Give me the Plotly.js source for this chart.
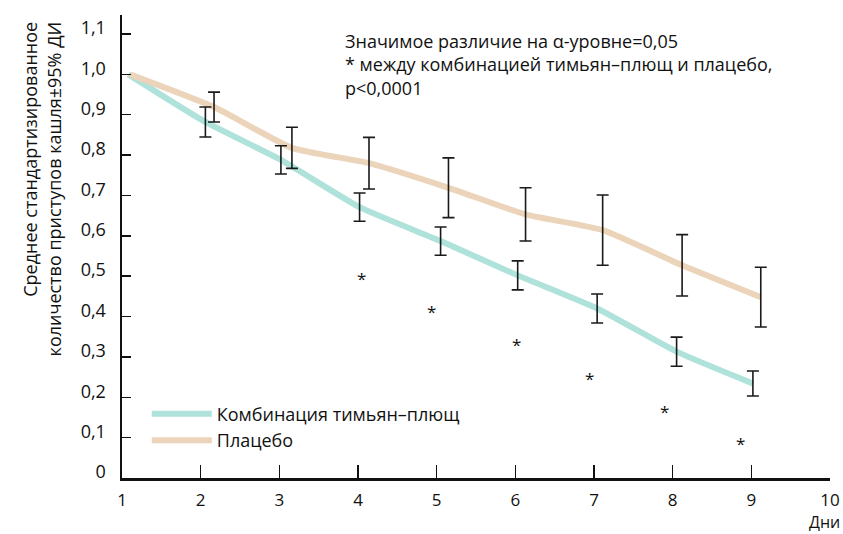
<!DOCTYPE html>
<html><head><meta charset="utf-8">
<script src="https://cdn.plot.ly/plotly-3.0.1.min.js"></script>
<style>html,body{margin:0;padding:0;background:#fff}#chart{width:843px;height:534px}</style>
</head><body><div id="chart"></div>
<script>
// Data
const comboName = 'Комбинация тимьян–плющ';
const placeboName = 'Плацебо';
const comboDays = [1.08, 2.06, 3.02, 4.02, 5.05, 6.03, 7.04, 8.05, 9.02];
const comboMean = [1.0, 0.882, 0.788, 0.671, 0.587, 0.502, 0.420, 0.313, 0.234];
const comboCI   = [0, 0.037, 0.035, 0.035, 0.035, 0.036, 0.036, 0.036, 0.031];
const placeboDays = [1.10, 2.17, 3.16, 4.14, 5.15, 6.13, 7.11, 8.12, 9.12];
const placeboMean = [1.0, 0.919, 0.818, 0.780, 0.719, 0.653, 0.614, 0.527, 0.448];
const placeboCI   = [0, 0.037, 0.051, 0.064, 0.074, 0.066, 0.087, 0.076, 0.074];
const starDays = [4.05, 4.94, 6.02, 6.94, 7.89, 8.86];
const starVals = [0.496, 0.414, 0.334, 0.250, 0.168, 0.089];
const yTickVals = [0, 0.1, 0.2, 0.3, 0.4, 0.5, 0.6, 0.7, 0.8, 0.9, 1.0, 1.1];
const yTickText = ['0', '0,1', '0,2', '0,3', '0,4', '0,5', '0,6', '0,7', '0,8', '0,9', '1,0', '1,1'];
const xTickVals = [1, 2, 3, 4, 5, 6, 7, 8, 9, 10];
const xTickText = ['1', '2', '3', '4', '5', '6', '7', '8', '9', '10'];
const yTitleText = 'Среднее стандартизированное<br>количество приступов кашля±95% ДИ';
const xTitleText = 'Дни';
const noteText = 'Значимое различие на α-уровне=0,05<br>* между комбинацией тимьян–плющ и плацебо,<br>p<0,0001';

const FONT = 'Open Sans, Noto Sans, sans-serif';
const FS = 18;
const teal = '#aee2da';
const tan = '#ebd4ba';

const traces = [
  {x: comboDays, y: comboMean, mode: 'lines', name: comboName,
   line: {color: teal, width: 6, shape: 'spline', smoothing: 0.5}, hoverinfo: 'skip'},
  {x: placeboDays, y: placeboMean, mode: 'lines', name: placeboName,
   line: {color: tan, width: 6, shape: 'spline', smoothing: 0.5}, hoverinfo: 'skip'},
  {x: comboDays.slice(1), y: comboMean.slice(1), mode: 'markers', showlegend: false,
   marker: {size: 1, opacity: 0},
   error_y: {type: 'data', array: comboCI.slice(1), visible: true, color: '#1a1a1a', thickness: 1.6, width: 6}},
  {x: placeboDays.slice(1), y: placeboMean.slice(1), mode: 'markers', showlegend: false,
   marker: {size: 1, opacity: 0},
   error_y: {type: 'data', array: placeboCI.slice(1), visible: true, color: '#1a1a1a', thickness: 1.6, width: 6}}
];

// significance stars placed at the data positions
const starAnnotations = starDays.map((d, i) => ({
  xref: 'x', yref: 'y', x: d, y: starVals[i], text: '*', showarrow: false,
  xanchor: 'center', yanchor: 'middle', yshift: -1,
  font: {family: FONT, size: 17, color: '#111'}
}));

const layout = {
  width: 843, height: 534,
  margin: {l: 122, r: 13, t: 15, b: 56},
  paper_bgcolor: '#fff', plot_bgcolor: '#fff',
  font: {family: FONT, size: FS, color: '#111'},
  showlegend: true,
  legend: {x: 0.035, y: 0.178, xanchor: 'left', yanchor: 'top', bgcolor: 'rgba(0,0,0,0)',
           font: {family: FONT, size: FS, color: '#111'}, itemwidth: 60, tracegroupgap: 0},
  xaxis: {range: [1, 10], showgrid: false, zeroline: false, showline: true, linecolor: '#111', linewidth: 2.5,
          ticks: 'inside', ticklen: 13, tickwidth: 1.5, tickcolor: '#111',
          tickvals: xTickVals, ticktext: xTickText, ticklabelstandoff: 5,
          tickfont: {family: FONT, size: 17, color: '#111'}},
  yaxis: {range: [0, 1.1 * (478 - 15) / (478 - 34)], showgrid: false, zeroline: false, showline: true, linecolor: '#111', linewidth: 2.5,
          ticks: 'inside', ticklen: 9, tickwidth: 1.5, tickcolor: '#111',
          tickvals: yTickVals, ticktext: yTickText, ticklabelstandoff: 10, ticklabelshift: -6,
          tickfont: {family: FONT, size: FS, color: '#111'}},
  annotations: [
    {xref: 'paper', yref: 'paper', x: 0.312, y: 0.975, xanchor: 'left', yanchor: 'top', align: 'left',
     text: noteText, showarrow: false, font: {family: FONT, size: FS, color: '#111'}},
    {xref: 'paper', yref: 'paper', x: -0.114, y: 0.99, xanchor: 'center', yanchor: 'top', align: 'right',
     textangle: -90, text: yTitleText, showarrow: false, font: {family: FONT, size: FS, color: '#111'}},
    {xref: 'paper', yref: 'paper', x: 1.0155, y: -0.121, xanchor: 'right', yanchor: 'bottom', borderpad: 0,
     text: xTitleText, showarrow: false, font: {family: FONT, size: 16, color: '#111'}}
  ].concat(starAnnotations)
};

Plotly.newPlot('chart', traces, layout, {displayModeBar: false, staticPlot: true});
</script>
</body></html>
